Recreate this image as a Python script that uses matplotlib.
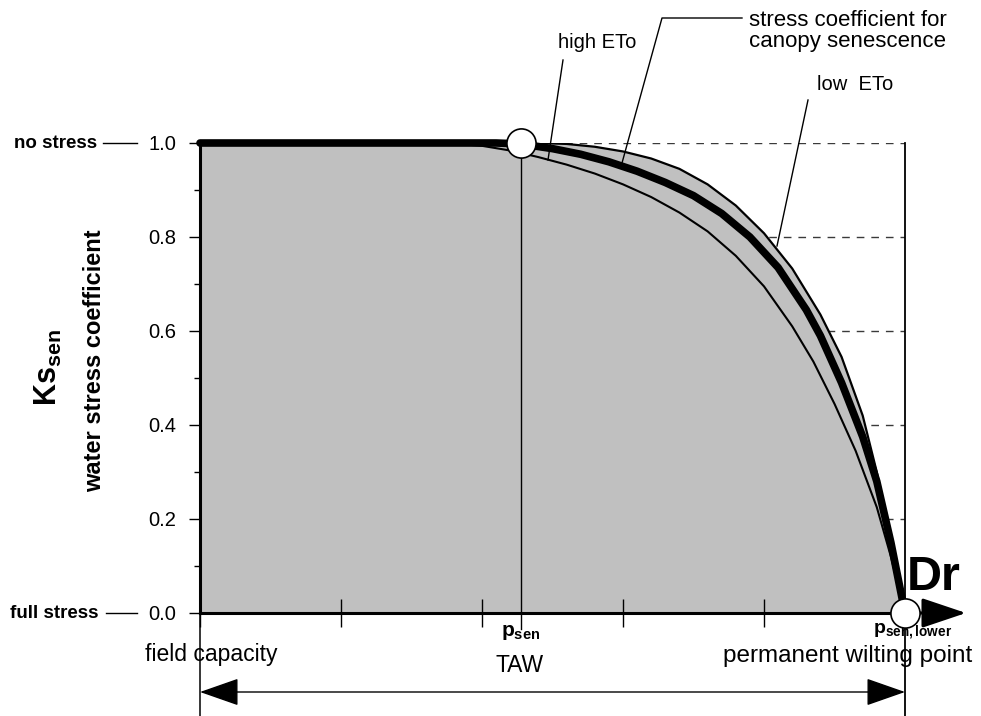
import matplotlib
matplotlib.use('Agg')
import matplotlib.pyplot as plt

plt.rcParams['font.family'] = ['Liberation Sans', 'DejaVu Sans']
plt.rcParams['mathtext.fontset'] = 'custom'
plt.rcParams['mathtext.rm'] = 'Liberation Sans'
plt.rcParams['mathtext.bf'] = 'Liberation Sans:bold'
plt.rcParams['mathtext.it'] = 'Liberation Sans:italic'

# ---- data: Dr expressed as fraction of TAW (0 = field capacity, 1 = p_sen,lower) ----
x_low = [0.00, 0.48, 0.52, 0.56, 0.60, 0.64, 0.68, 0.72, 0.76, 0.80, 0.84, 0.88, 0.91, 0.94, 0.96, 0.98, 1.00]
ks_low = [1.000, 1.000, 0.998, 0.992, 0.982, 0.967, 0.945, 0.912, 0.867, 0.808, 0.733, 0.635, 0.545, 0.420, 0.300, 0.155, 0.000]

x_sen = [0.00, 0.42, 0.455, 0.50, 0.54, 0.58, 0.62, 0.66, 0.70, 0.74, 0.78, 0.82, 0.86, 0.88, 0.91, 0.94, 0.96, 0.98, 1.00]
ks_sen = [1.000, 1.000, 0.998, 0.988, 0.976, 0.960, 0.940, 0.916, 0.888, 0.850, 0.800, 0.735, 0.645, 0.590, 0.490, 0.375, 0.280, 0.150, 0.000]

x_high = [0.00, 0.35, 0.40, 0.44, 0.48, 0.52, 0.56, 0.60, 0.64, 0.68, 0.72, 0.76, 0.80, 0.84, 0.87, 0.90, 0.93, 0.96, 0.98, 1.00]
ks_high = [1.000, 1.000, 0.994, 0.984, 0.970, 0.954, 0.935, 0.912, 0.885, 0.852, 0.812, 0.760, 0.695, 0.610, 0.535, 0.445, 0.345, 0.225, 0.120, 0.000]

p_sen = 0.455
p_sen_lower = 1.0

yticks = [0.0, 0.2, 0.4, 0.6, 0.8, 1.0]
ytick_labels = ['0.0', '0.2', '0.4', '0.6', '0.8', '1.0']
yminor = [0.1, 0.3, 0.5, 0.7, 0.9]
xticks = [0.0, 0.2, 0.4, 0.6, 0.8, 1.0]

W, H = 981, 716
X0, X1, Y0, Y1 = 200, 905, 613, 143


def px2d(px, py):
    return (px - X0) / (X1 - X0), (Y0 - py) / (Y0 - Y1)


fig = plt.figure(figsize=(W / 100, H / 100), dpi=100)
ax = fig.add_axes([X0 / W, (H - Y0) / H, (X1 - X0) / W, (Y0 - Y1) / H])
ax.set_xlim(0, 1)
ax.set_ylim(0, 1)
ax.set_facecolor('none')
for s in ['top', 'right']:
    ax.spines[s].set_visible(False)
ax.spines['left'].set_linewidth(2.2)
ax.spines['bottom'].set_linewidth(2.2)
ax.spines['left'].set_zorder(4)
ax.spines['bottom'].set_zorder(4)

# dashed grid lines (hidden by the grey area)
for y in yticks[1:]:
    ax.plot([0, 1], [y, y], color='#3a3a3a', lw=1, ls=(0, (5.5, 5)), zorder=0.5)

# grey area under low ETo curve
ax.fill_between(x_low, 0, ks_low, color='#c0c0c0', lw=0, zorder=1)

# p_sen vertical line
ax.plot([p_sen, p_sen], [1.0, -0.035], color='k', lw=1, zorder=2, clip_on=False)

# curves
ax.plot(x_low, ks_low, color='k', lw=1.6, zorder=3)
ax.plot(x_high, ks_high, color='k', lw=1.5, zorder=3)
ax.plot(x_sen, ks_sen, color='k', lw=5.5, solid_capstyle='round', zorder=3.5, clip_on=False)

# vertical boundary lines
ax.plot([1, 1], [1.0, -0.23], color='k', lw=1.3, zorder=4, clip_on=False)
ax.plot([0, 0], [0, -0.23], color='k', lw=1.1, zorder=4, clip_on=False)

# circles
ax.plot([p_sen, p_sen_lower], [1.0, 0.0], 'o', ms=21, mfc='white', mec='k', mew=1.2,
        zorder=6, clip_on=False)

# ticks
ax.set_yticks(yticks)
ax.set_yticklabels(ytick_labels)
ax.set_yticks(yminor, minor=True)
ax.tick_params(axis='y', which='major', direction='out', length=8, width=1, labelsize=14.5, pad=9)
ax.tick_params(axis='y', which='minor', direction='out', length=4, width=1)
ax.set_xticks(xticks)
ax.set_xticklabels([])
ax.tick_params(axis='x', which='major', direction='inout', length=20, width=1)

# y-side labels
ytr = ax.get_yaxis_transform()
ax.text(px2d(97, 0)[0], 1.0, 'no stress', transform=ytr, ha='right', va='center',
        fontsize=13.5, fontweight='bold')
ax.plot([px2d(103, 0)[0], px2d(137, 0)[0]], [1.0, 1.0], transform=ytr, color='k', lw=1, clip_on=False)
ax.text(px2d(98, 0)[0], 0.0, 'full stress', transform=ytr, ha='right', va='center',
        fontsize=13.5, fontweight='bold')
ax.plot([px2d(106, 0)[0], px2d(137, 0)[0]], [0.0, 0.0], transform=ytr, color='k', lw=1, clip_on=False)

fig.text(48 / W, 1 - 368 / H, r'$\mathbf{Ks}_{\mathbf{sen}}$', rotation=90, fontsize=22,
         ha='center', va='center')
fig.text(95 / W, 1 - 361 / H, 'water stress coefficient', rotation=90, fontsize=17,
         fontweight='bold', ha='center', va='center')

# annotations
ax.text(*px2d(597, 42), 'high ETo', ha='center', va='center', fontsize=14.5)
ax.plot(*zip(px2d(563, 60), px2d(548, 160)), color='k', lw=1, zorder=5, clip_on=False)

ax.text(*px2d(749, 31), 'stress coefficient for\ncanopy senescence', ha='left', va='center',
        fontsize=16, linespacing=1.02)
ax.plot(*zip(px2d(742, 18), px2d(662, 18), px2d(622, 163)), color='k', lw=1, zorder=5, clip_on=False)

ax.text(*px2d(855, 85), 'low  ETo', ha='center', va='center', fontsize=14.5)
ax.plot(*zip(px2d(808, 100), px2d(777, 246)), color='k', lw=1, zorder=5, clip_on=False)

# Dr axis arrow
ax.annotate('', xy=(px2d(966, 0)[0], 0), xytext=(1.0, 0), xycoords='data',
            arrowprops=dict(arrowstyle='-|>,head_length=1.1,head_width=0.37', mutation_scale=25,
                            lw=2.2, color='k', shrinkA=0, shrinkB=0), annotation_clip=False)
ax.text(*px2d(907, 590), 'Dr', ha='left', va='baseline', fontsize=35, fontweight='bold')

# bottom labels
ax.text(p_sen, px2d(0, 633)[1], r'$\mathbf{p}_{\mathbf{sen}}$', ha='center', va='center', fontsize=15)
ax.text(p_sen_lower + 0.01, px2d(0, 631)[1], r'$\mathbf{p}_{\mathbf{sen,lower}}$', ha='center',
        va='center', fontsize=14)
ax.text(*px2d(211, 654), 'field capacity', ha='center', va='center', fontsize=16.5)
ax.text(*px2d(848, 656), 'permanent wilting point', ha='center', va='center', fontsize=17.5)
ax.text(*px2d(520, 666), 'TAW', ha='center', va='center', fontsize=16.5)

ax.annotate('', xy=(0, px2d(0, 692)[1]), xytext=(1, px2d(0, 692)[1]),
            arrowprops=dict(arrowstyle='<|-|>,head_length=1.0,head_width=0.35', mutation_scale=25,
                            lw=1, color='k', shrinkA=0, shrinkB=0), annotation_clip=False)

fig.savefig('out.png', dpi=100)
